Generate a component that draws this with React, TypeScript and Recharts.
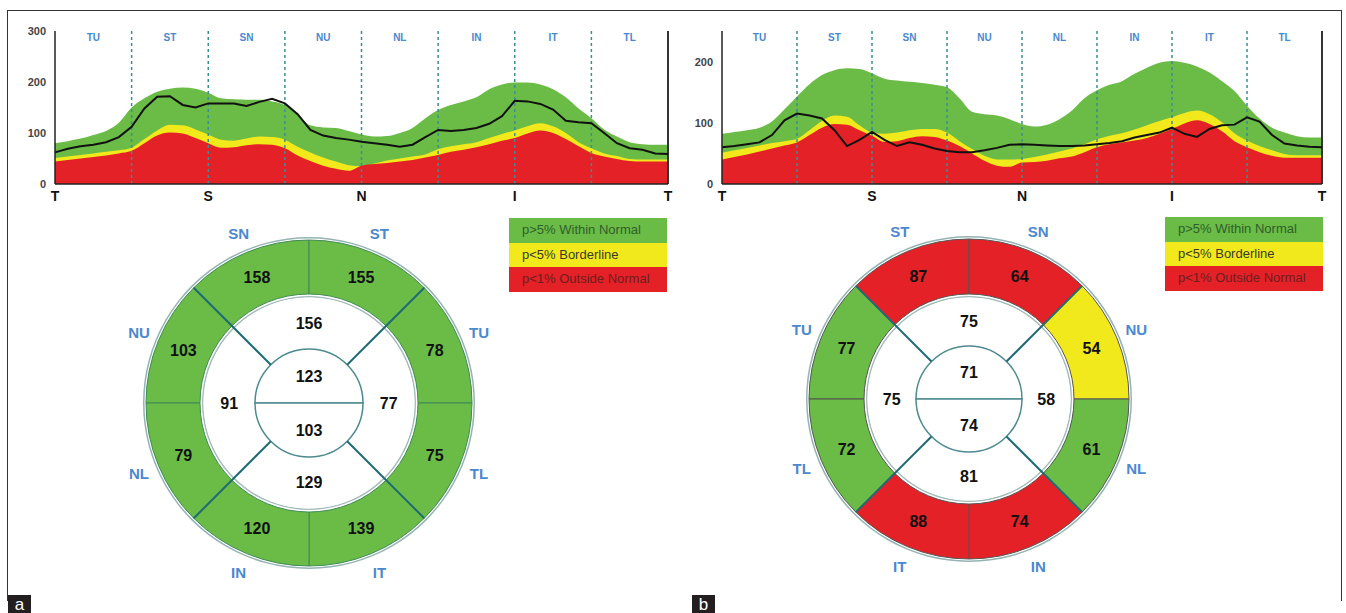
import {
  AreaChart,
  Area,
  Line,
  XAxis,
  YAxis,
  ReferenceLine,
  PieChart,
  Pie,
  Cell,
} from 'recharts';

// TSNIT position in degrees (T=0, S=90, N=180, I=270, T=360)
const ANGLES = [
  0, 7.5, 15, 22.5, 30, 37.5, 45, 52.5, 60, 67.5, 75, 82.5, 90, 97.5, 105, 112.5, 120, 127.5, 135,
  142.5, 150, 157.5, 165, 172.5, 180, 187.5, 195, 202.5, 210, 217.5, 225, 232.5, 240, 247.5, 255,
  262.5, 270, 277.5, 285, 292.5, 300, 307.5, 315, 322.5, 330, 337.5, 345, 352.5, 360,
];

// panel a (right eye)
const A_GREEN = [
  80, 84, 89, 96, 104, 120, 150, 168, 181, 187, 189, 187, 179, 168, 166, 165, 165, 162, 155, 136,
  115, 111, 110, 104, 97, 93, 94, 100, 110, 129, 145, 155, 162, 170, 186, 195, 199, 199, 195, 186,
  170, 148, 129, 107, 93, 82, 78, 77, 77,
];
const A_YELLOW = [
  51, 54, 57, 60, 63, 66, 71, 88, 105, 116, 115, 107, 97, 87, 85, 89, 93, 92, 87, 73, 62, 52, 44,
  37, 35, 40, 46, 50, 54, 58, 68, 74, 78, 82, 90, 98, 105, 113, 119, 113, 100, 82, 70, 60, 55, 49,
  48, 48, 48,
];
const A_RED = [
  44, 47, 50, 53, 56, 60, 65, 80, 95, 101, 99, 90, 80, 71, 72, 76, 78, 77, 70, 56, 45, 36, 30, 26,
  36, 39, 41, 44, 47, 52, 57, 63, 67, 72, 78, 85, 90, 99, 105, 100, 88, 74, 61, 54, 49, 45, 44, 44,
  44,
];
const A_RNFL = [
  62, 69, 74, 77, 82, 92, 112, 148, 171, 172, 155, 150, 158, 158, 158, 153, 161, 167, 158, 137,
  106, 95, 90, 87, 83, 80, 77, 73, 77, 92, 106, 104, 106, 110, 118, 133, 163, 162, 157, 146, 124,
  121, 119, 100, 80, 70, 67, 60, 59,
];

// panel b (left eye)
const B_GREEN = [
  82, 85, 88, 92, 102, 122, 143, 163, 178, 186, 189, 188, 181, 172, 169, 167, 165, 162, 158, 140,
  118, 114, 112, 106, 98, 94, 97, 106, 120, 140, 153, 162, 168, 180, 190, 198, 201, 198, 192, 182,
  168, 152, 128, 107, 92, 84, 78, 76, 76,
];
const B_YELLOW = [
  51, 55, 59, 63, 67, 70, 74, 88, 103, 112, 110, 96, 84, 82, 84, 88, 90, 90, 84, 70, 57, 46, 40, 40,
  41, 44, 48, 53, 58, 65, 73, 79, 83, 89, 96, 103, 109, 116, 120, 114, 101, 83, 71, 62, 55, 49, 47,
  47, 47,
];
const B_RED = [
  40, 44, 48, 53, 58, 63, 68, 80, 92, 98, 97, 88, 79, 69, 70, 75, 78, 77, 71, 62, 50, 38, 30, 28,
  35, 36, 38, 42, 45, 52, 60, 65, 68, 71, 75, 82, 90, 99, 104, 98, 86, 70, 60, 52, 46, 43, 43, 43,
  43,
];
const B_RNFL = [
  60, 62, 65, 68, 80, 104, 115, 112, 107, 88, 62, 72, 85, 72, 62, 68, 64, 58, 54, 52, 52, 55, 59,
  64, 65, 64, 63, 62, 62, 63, 65, 67, 70, 76, 80, 84, 92, 82, 77, 90, 96, 97, 109, 102, 80, 66, 63,
  61, 60,
];

const TSNIT_TICKS = [0, 90, 180, 270, 360];
const TSNIT_LABELS = ['T', 'S', 'N', 'I', 'T'];
const SECTOR_BOUNDS = [45, 90, 135, 180, 225, 270, 315];
const SECTOR_MIDS = [22.5, 67.5, 112.5, 157.5, 202.5, 247.5, 292.5, 337.5];
const SECTOR_NAMES = ['TU', 'ST', 'SN', 'NU', 'NL', 'IN', 'IT', 'TL'];

// sector maps, clockwise from 9 o'clock
const A_OUTER = [
  { sector: 'NU', thick: 103, status: 'normal', arc: 45 },
  { sector: 'SN', thick: 158, status: 'normal', arc: 45 },
  { sector: 'ST', thick: 155, status: 'normal', arc: 45 },
  { sector: 'TU', thick: 78, status: 'normal', arc: 45 },
  { sector: 'TL', thick: 75, status: 'normal', arc: 45 },
  { sector: 'IT', thick: 139, status: 'normal', arc: 45 },
  { sector: 'IN', thick: 120, status: 'normal', arc: 45 },
  { sector: 'NL', thick: 79, status: 'normal', arc: 45 },
];
const A_QUADRANTS = [
  { thick: 156, arc: 90 },
  { thick: 77, arc: 90 },
  { thick: 129, arc: 90 },
  { thick: 91, arc: 90 },
];
const A_HALVES = [
  { thick: 123, arc: 180 },
  { thick: 103, arc: 180 },
];

const B_OUTER = [
  { sector: 'TU', thick: 77, status: 'normal', arc: 45 },
  { sector: 'ST', thick: 87, status: 'outside', arc: 45 },
  { sector: 'SN', thick: 64, status: 'outside', arc: 45 },
  { sector: 'NU', thick: 54, status: 'borderline', arc: 45 },
  { sector: 'NL', thick: 61, status: 'normal', arc: 45 },
  { sector: 'IN', thick: 74, status: 'outside', arc: 45 },
  { sector: 'IT', thick: 88, status: 'outside', arc: 45 },
  { sector: 'TL', thick: 72, status: 'normal', arc: 45 },
];
const B_QUADRANTS = [
  { thick: 75, arc: 90 },
  { thick: 58, arc: 90 },
  { thick: 81, arc: 90 },
  { thick: 75, arc: 90 },
];
const B_HALVES = [
  { thick: 71, arc: 180 },
  { thick: 74, arc: 180 },
];

const LEGEND = [
  { text: 'p>5% Within Normal', status: 'normal' },
  { text: 'p<5% Borderline', status: 'borderline' },
  { text: 'p<1% Outside Normal', status: 'outside' },
];

const STATUS_FILL: Record<string, string> = {
  normal: '#6bbb47',
  borderline: '#f2e91c',
  outside: '#e42127',
};
const STATUS_TEXT: Record<string, string> = {
  normal: '#2f5f2a',
  borderline: '#3a3a2a',
  outside: '#6e1f1f',
};

const TEAL = '#1f6b74';
const BLUE = '#4a88cf';
const FONT = '"Liberation Sans", Arial, sans-serif';
const RAD = Math.PI / 180;

function buildRows(green: number[], yellow: number[], red: number[], rnfl: number[]) {
  return ANGLES.map((deg, i) => ({ deg, green: green[i], yellow: yellow[i], red: red[i], rnfl: rnfl[i] }));
}

function TsnitChart({ left, width, marginLeft, marginRight, yMax, yTicks, rows }: any) {
  return (
    <div style={{ position: 'absolute', left, top: 0 }}>
      <AreaChart
        width={width}
        height={215}
        data={rows}
        margin={{ top: 31, right: marginRight, left: marginLeft, bottom: 6 }}
      >
        <XAxis
          dataKey="deg"
          type="number"
          domain={[0, 360]}
          ticks={TSNIT_TICKS}
          tickFormatter={(v: number) => TSNIT_LABELS[v / 90]}
          tickLine={false}
          tickSize={4}
          tickMargin={3}
          height={25}
          axisLine={{ stroke: '#222', strokeWidth: 1.5 }}
          tick={{ fill: '#111', fontSize: 14, fontWeight: 'bold', fontFamily: FONT }}
        />
        <YAxis
          type="number"
          domain={[0, yMax]}
          ticks={yTicks}
          tickFormatter={(v: number) => (v % 100 === 0 ? String(v) : '')}
          tickLine={false}
          tickSize={4}
          tickMargin={5}
          width={30}
          axisLine={{ stroke: '#222', strokeWidth: 1.5 }}
          tick={{ fill: '#444', fontSize: 11, fontWeight: 'bold', fontFamily: FONT }}
        />
        <Area type="monotone" dataKey="green" stroke="none" fill={STATUS_FILL.normal} fillOpacity={1} isAnimationActive={false} />
        <Area type="monotone" dataKey="yellow" stroke="none" fill={STATUS_FILL.borderline} fillOpacity={1} isAnimationActive={false} />
        <Area type="monotone" dataKey="red" stroke="none" fill={STATUS_FILL.outside} fillOpacity={1} isAnimationActive={false} />
        {SECTOR_BOUNDS.map((x) => (
          <ReferenceLine key={x} x={x} stroke="#3e8c94" strokeWidth={1.5} strokeDasharray="3 3" />
        ))}
        {SECTOR_MIDS.map((x, i) => (
          <ReferenceLine
            key={`m${x}`}
            x={x}
            stroke="none"
            label={{
              value: SECTOR_NAMES[i],
              position: 'insideTop',
              offset: 3,
              fill: BLUE,
              fontSize: 10,
              fontWeight: 'bold',
              fontFamily: FONT,
            }}
          />
        ))}
        <ReferenceLine x={360} stroke="#333" strokeWidth={2} />
        <Line type="linear" dataKey="rnfl" stroke="#111" strokeWidth={2} dot={false} isAnimationActive={false} />
      </AreaChart>
    </div>
  );
}

const numberText = { fill: '#111', fontSize: 16, fontWeight: 'bold', fontFamily: FONT } as const;

function ringLabel(p: any) {
  const d = p.payload ?? p;
  const a = -p.midAngle * RAD;
  const rv = (p.innerRadius + p.outerRadius) / 2;
  const rn = p.outerRadius + 21;
  return (
    <g>
      <text x={p.cx + rv * Math.cos(a)} y={p.cy + rv * Math.sin(a)} textAnchor="middle" dominantBaseline="central" {...numberText}>
        {d.thick}
      </text>
      <text
        x={p.cx + rn * Math.cos(a)}
        y={p.cy + rn * Math.sin(a)}
        textAnchor="middle"
        dominantBaseline="central"
        fill={BLUE}
        fontSize={15}
        fontWeight="bold"
        fontFamily={FONT}
      >
        {d.sector}
      </text>
    </g>
  );
}

function innerLabel(p: any) {
  const d = p.payload ?? p;
  const a = -p.midAngle * RAD;
  const r = p.innerRadius > 0 ? (p.innerRadius + p.outerRadius) / 2 : p.outerRadius / 2;
  return (
    <text x={p.cx + r * Math.cos(a)} y={p.cy + r * Math.sin(a)} textAnchor="middle" dominantBaseline="central" {...numberText}>
      {d.thick}
    </text>
  );
}

function spokeLabel(p: any) {
  const a = -(p.midAngle + 45) * RAD;
  return (
    <line
      x1={p.cx + p.innerRadius * Math.cos(a)}
      y1={p.cy + p.innerRadius * Math.sin(a)}
      x2={p.cx + p.outerRadius * Math.cos(a)}
      y2={p.cy + p.outerRadius * Math.sin(a)}
      stroke={TEAL}
      strokeWidth={2}
    />
  );
}

function SectorMap({ cx, cy, R, r1, r0, outer, quadrants, halves, sepColor }: any) {
  const S = 420;
  return (
    <div style={{ position: 'absolute', left: cx - S / 2, top: cy - S / 2 }}>
      <PieChart width={S} height={S} margin={{ top: 0, right: 0, bottom: 0, left: 0 }}>
        <Pie
          data={[{ arc: 360 }]}
          dataKey="arc"
          cx={S / 2}
          cy={S / 2}
          innerRadius={R + 1.5}
          outerRadius={R + 3}
          fill="#93b4b2"
          stroke="none"
          isAnimationActive={false}
        />
        <Pie
          data={outer}
          dataKey="arc"
          cx={S / 2}
          cy={S / 2}
          innerRadius={r1}
          outerRadius={R}
          startAngle={180}
          endAngle={-180}
          stroke={sepColor}
          strokeWidth={1}
          label={ringLabel}
          labelLine={false}
          isAnimationActive={false}
        >
          {outer.map((d: any, i: number) => (
            <Cell key={i} fill={STATUS_FILL[d.status]} />
          ))}
        </Pie>
        <Pie
          data={[{ arc: 360 }]}
          dataKey="arc"
          cx={S / 2}
          cy={S / 2}
          innerRadius={r1 - 3.5}
          outerRadius={r1 - 2}
          fill="#a3bcb9"
          stroke="none"
          isAnimationActive={false}
        />
        <Pie
          data={quadrants}
          dataKey="arc"
          cx={S / 2}
          cy={S / 2}
          innerRadius={r0}
          outerRadius={r1 - 3.5}
          startAngle={135}
          endAngle={-225}
          fill="#fff"
          stroke="none"
          label={innerLabel}
          labelLine={false}
          isAnimationActive={false}
        />
        <Pie
          data={halves}
          dataKey="arc"
          cx={S / 2}
          cy={S / 2}
          innerRadius={0}
          outerRadius={r0}
          startAngle={180}
          endAngle={-180}
          fill="#fff"
          stroke="#4d8a90"
          strokeWidth={1.5}
          label={innerLabel}
          labelLine={false}
          isAnimationActive={false}
        />
        <Pie
          data={quadrants}
          dataKey="arc"
          cx={S / 2}
          cy={S / 2}
          innerRadius={r0}
          outerRadius={R}
          startAngle={135}
          endAngle={-225}
          fill="none"
          stroke="none"
          label={spokeLabel}
          labelLine={false}
          isAnimationActive={false}
        />
      </PieChart>
    </div>
  );
}

function LegendBox({ left, top }: { left: number; top: number }) {
  return (
    <div style={{ position: 'absolute', left, top, width: 158 }}>
      {LEGEND.map((l) => (
        <div
          key={l.status}
          style={{
            height: 24.5,
            lineHeight: '24.5px',
            background: STATUS_FILL[l.status],
            color: STATUS_TEXT[l.status],
            fontFamily: FONT,
            fontSize: 13,
            paddingLeft: 13,
            boxSizing: 'border-box',
            whiteSpace: 'nowrap',
          }}
        >
          {l.text}
        </div>
      ))}
    </div>
  );
}

function PanelTag({ left, text }: { left: number; text: string }) {
  return (
    <div
      style={{
        position: 'absolute',
        left,
        top: 595,
        width: 23,
        height: 18,
        background: '#231f20',
        color: '#fff',
        fontFamily: FONT,
        fontSize: 17,
        lineHeight: '20px',
        textAlign: 'center',
      }}
    >
      {text}
    </div>
  );
}

export default function App() {
  const rowsA = buildRows(A_GREEN, A_YELLOW, A_RED, A_RNFL);
  const rowsB = buildRows(B_GREEN, B_YELLOW, B_RED, B_RNFL);
  return (
    <div style={{ position: 'absolute', left: 0, top: 0, width: 1346, height: 613, background: '#fff', overflow: 'hidden' }}>
      <div
        style={{
          position: 'absolute',
          left: 7,
          top: 10,
          width: 1333,
          height: 590,
          borderLeft: '1.5px solid #333',
          borderTop: '1.5px solid #333',
          borderRight: '1.5px solid #333',
        }}
      />
      <TsnitChart left={0} width={690} marginLeft={25} marginRight={22} yMax={300} yTicks={[0, 50, 100, 150, 200, 250, 300]} rows={rowsA} />
      <TsnitChart left={680} width={665} marginLeft={12} marginRight={23} yMax={250} yTicks={[0, 50, 100, 150, 200, 250]} rows={rowsB} />
      <LegendBox left={509} top={218} />
      <LegendBox left={1165} top={217} />
      <SectorMap cx={309} cy={403} R={163} r1={109} r0={54} outer={A_OUTER} quadrants={A_QUADRANTS} halves={A_HALVES} sepColor="#3f8a55" />
      <SectorMap cx={969} cy={399} R={160} r1={105} r0={53} outer={B_OUTER} quadrants={B_QUADRANTS} halves={B_HALVES} sepColor="#555" />
      <PanelTag left={8} text="a" />
      <PanelTag left={692} text="b" />
    </div>
  );
}
